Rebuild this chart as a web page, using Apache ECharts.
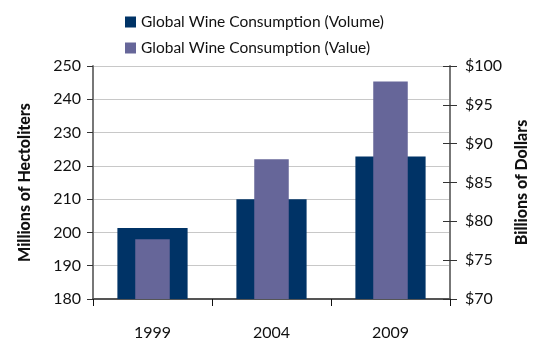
<!DOCTYPE html>
<html>
<head>
<meta charset="utf-8">
<script src="https://cdn.jsdelivr.net/npm/echarts@6/dist/echarts.min.js"></script>
<style>
  html, body { margin: 0; padding: 0; background: #fff; }
  #chart { width: 534px; height: 345px; }
</style>
</head>
<body>
<div id="chart"></div>
<script>
// Global wine consumption, volume vs. value
const years = ['1999', '2004', '2009'];
const volumeHl = [201.3, 210, 222.8];     // millions of hectoliters
const valueUsd = [77.7, 88, 98];           // billions of dollars
const leftTicks = { min: 180, max: 250, step: 10 };
const rightTicks = { min: 70, max: 100, step: 5 };

const FONT = 'Lato';
const chart = echarts.init(document.getElementById('chart'));

chart.setOption({
  animation: false,
  textStyle: { fontFamily: FONT },
  legend: {
    orient: 'vertical',
    left: 120,
    top: 9,
    itemWidth: 11,
    itemHeight: 11,
    itemGap: 10,
    icon: 'rect',
    textStyle: { fontFamily: FONT, fontSize: 15.5, color: '#111' },
    data: ['Global Wine Consumption (Volume)', 'Global Wine Consumption (Value)']
  },
  grid: { left: 93, right: 84, top: 66, bottom: 46, outerBoundsMode: 'none', containLabel: false },
  xAxis: [
    {
      type: 'category',
      data: years,
      axisLine: { lineStyle: { color: '#555', width: 2 } },
      axisTick: { show: true, length: 7, lineStyle: { color: '#111' } },
      axisLabel: { fontSize: 16, color: '#111', margin: 26, fontFamily: FONT }
    },
    {
      type: 'category',
      data: years,
      show: false
    }
  ],
  yAxis: [
    {
      type: 'value',
      min: leftTicks.min,
      max: leftTicks.max,
      interval: leftTicks.step,
      name: 'Millions of Hectoliters',
      nameLocation: 'middle',
      nameGap: 60,
      nameTextStyle: { fontSize: 16, fontWeight: 900, color: '#111', fontFamily: FONT },
      axisLine: { show: true, lineStyle: { color: '#777', width: 2 } },
      axisTick: { show: true, length: 6, lineStyle: { color: '#333' } },
      axisLabel: { fontSize: 16, color: '#111', margin: 12, fontFamily: FONT },
      splitLine: { lineStyle: { color: '#c8c8c8', width: 1 } }
    },
    {
      type: 'value',
      position: 'right',
      min: rightTicks.min,
      max: rightTicks.max,
      interval: rightTicks.step,
      name: 'Billions of Dollars',
      nameLocation: 'middle',
      nameGap: 64,
      nameRotate: 90,
      nameTextStyle: { fontSize: 16, fontWeight: 900, color: '#111', fontFamily: FONT },
      axisLine: { show: true, lineStyle: { color: '#777', width: 2 } },
      axisTick: { show: true, length: 7, lineStyle: { color: '#333' } },
      axisLabel: { fontSize: 16, color: '#111', margin: 15, fontFamily: FONT,
                   formatter: v => '$' + v },
      splitLine: { show: false }
    },
    {
      // inner half of the crossing ticks on the dollar axis
      type: 'value',
      position: 'right',
      min: rightTicks.min,
      max: rightTicks.max,
      interval: rightTicks.step,
      axisLine: { show: false },
      axisTick: { show: true, inside: true, length: 7, lineStyle: { color: '#333' } },
      axisLabel: { show: false },
      splitLine: { show: false }
    }
  ],
  series: [
    {
      name: 'Global Wine Consumption (Volume)',
      type: 'bar',
      xAxisIndex: 0,
      yAxisIndex: 0,
      data: volumeHl,
      barWidth: '59%',
      itemStyle: { color: '#003366' }
    },
    {
      name: 'Global Wine Consumption (Value)',
      type: 'bar',
      xAxisIndex: 1,
      yAxisIndex: 1,
      data: valueUsd,
      barWidth: '29%',
      itemStyle: { color: '#666699' },
      z: 3
    }
  ]
});
</script>
</body>
</html>
